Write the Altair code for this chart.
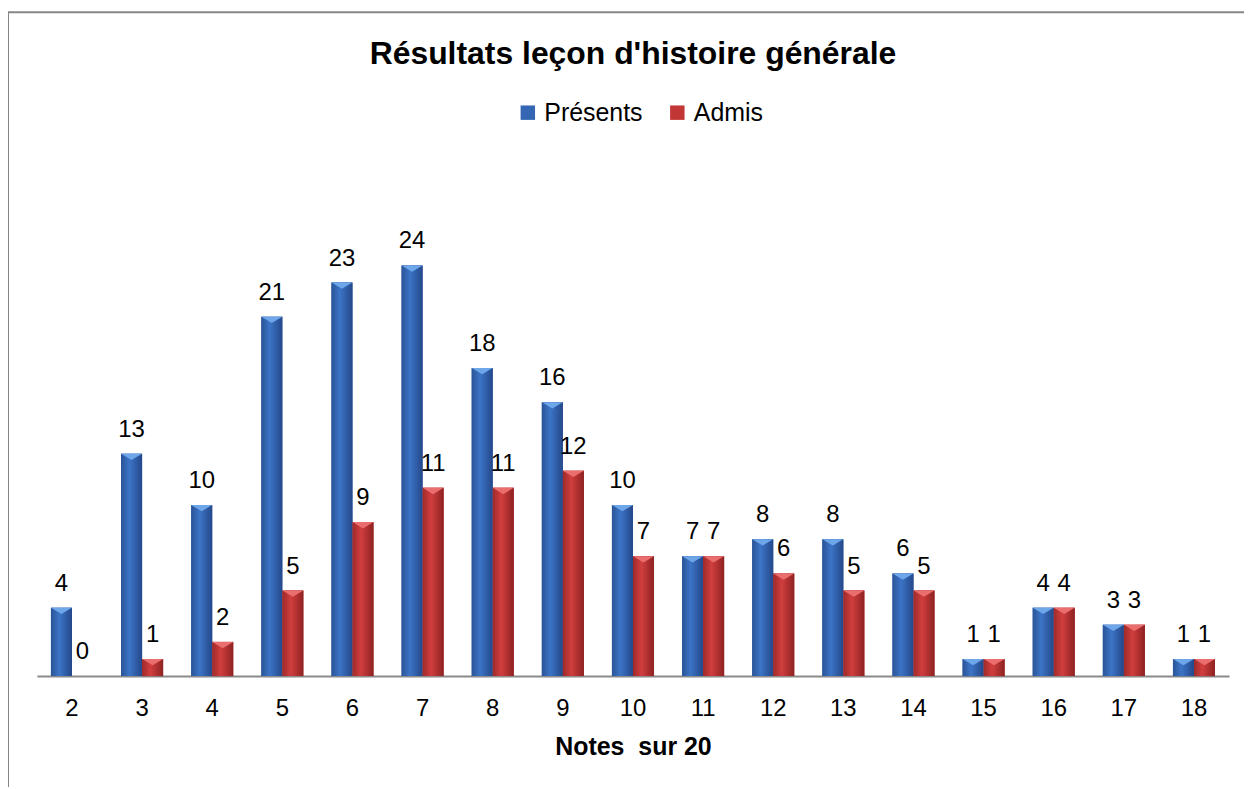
import altair as alt
import pandas as pd

notes = [2, 3, 4, 5, 6, 7, 8, 9, 10, 11, 12, 13, 14, 15, 16, 17, 18]
presents = [4, 13, 10, 21, 23, 24, 18, 16, 10, 7, 8, 8, 6, 1, 4, 3, 1]
admis = [0, 1, 2, 5, 9, 11, 11, 12, 7, 7, 6, 5, 5, 1, 4, 3, 1]
series = ["Présents", "Admis"]
title_text = "Résultats leçon d'histoire générale"
x_title = "Notes\u00a0 sur 20"

rows = []
for n, p, a in zip(notes, presents, admis):
    rows.append({"note": n, "serie": series[0], "val": p})
    rows.append({"note": n, "serie": series[1], "val": a})
df = pd.DataFrame(rows)

FONT = "Liberation Sans"
BLUE = "#3466b4"
RED = "#c23636"

xenc = alt.X("note:O", title=x_title,
             scale=alt.Scale(paddingInner=0.4, paddingOuter=0.2),
             axis=alt.Axis(labelAngle=0, ticks=False, labelFontSize=24, labelFont=FONT,
                           labelColor="#000000", labelBaseline="alphabetic", labelPadding=40,
                           domainColor="#8a8a8a", domainWidth=2,
                           titleFont=FONT, titleFontSize=25, titleFontWeight="bold",
                           titleColor="#000000", titleBaseline="alphabetic", titleY=79))
xoff = alt.XOffset("serie:N", scale=alt.Scale(domain=series, paddingInner=0, paddingOuter=0))
yenc = alt.Y("val:Q", scale=alt.Scale(domain=[0, 30], nice=False), axis=None)

base = alt.Chart(df)

legend_bars = base.mark_bar().encode(
    x=xenc, xOffset=xoff, y=yenc,
    color=alt.Color("serie:N", scale=alt.Scale(domain=series, range=[BLUE, RED]),
                    legend=alt.Legend(title=None, orient="none", legendX=480, legendY=-63,
                                      direction="horizontal", symbolType="square",
                                      symbolSize=210, symbolStrokeWidth=0,
                                      labelFontSize=25, labelFont=FONT, labelColor="#000000",
                                      labelOffset=4, columnPadding=22, padding=0,
                                      labelLimit=300)),
)

def grad(c0, c1, c2):
    return alt.Gradient(gradient="linear", x1=0, x2=1, y1=0, y2=0,
                        stops=[alt.GradientStop(color=c0, offset=0),
                               alt.GradientStop(color=c1, offset=0.4),
                               alt.GradientStop(color=c2, offset=1)])

blue_bars = base.transform_filter(alt.datum.serie == series[0]).mark_bar(
    color=grad("#2a5497", "#3c74c6", "#24488a")).encode(x=xenc, xOffset=xoff, y=yenc)
red_bars = base.transform_filter(alt.datum.serie == series[1]).mark_bar(
    color=grad("#9e2a2a", "#d13e3e", "#8e2222")).encode(x=xenc, xOffset=xoff, y=yenc)

tri_path = "M-1,0L1,0L0,0.6Z"
blue_tri = base.transform_filter((alt.datum.serie == series[0]) & (alt.datum.val > 0)).mark_point(
    shape=tri_path, filled=True, size=441, color="#6ea6ea", opacity=1, strokeWidth=0
).encode(x=xenc, xOffset=xoff, y=yenc)
red_tri = base.transform_filter((alt.datum.serie == series[1]) & (alt.datum.val > 0)).mark_point(
    shape=tri_path, filled=True, size=441, color="#ea6e6e", opacity=1, strokeWidth=0
).encode(x=xenc, xOffset=xoff, y=yenc)

labels = base.mark_text(fontSize=24, font=FONT, color="#000000", baseline="alphabetic",
                        dy=-17).encode(x=xenc, xOffset=xoff, y=yenc, text="val:Q")

frame_df = pd.DataFrame({"k": [0]})
border_top = alt.Chart(frame_df).mark_rule(color="#868686", strokeWidth=2).encode(
    x=alt.value(-29), x2=alt.value(1215), y=alt.value(-151))
border_left = alt.Chart(frame_df).mark_rule(color="#868686", strokeWidth=2).encode(
    x=alt.value(-29), y=alt.value(-151), y2=alt.value(640))

chart = alt.layer(
    legend_bars, blue_bars, red_bars, blue_tri, red_tri, labels, border_top, border_left
).properties(
    width=1196, height=515,
    autosize=alt.AutoSizeParams(type="none"),
    padding={"left": 29, "top": 154, "right": 15, "bottom": 110},
    background="#ffffff",
    title=alt.TitleParams(title_text, fontSize=32, font=FONT, fontWeight="bold",
                          color="#000000", anchor="middle", frame="group",
                          baseline="alphabetic", offset=0, dy=85),
).configure_view(stroke="transparent", strokeWidth=0)

chart.save("out.html", embed_options={"renderer": "svg", "actions": False})
